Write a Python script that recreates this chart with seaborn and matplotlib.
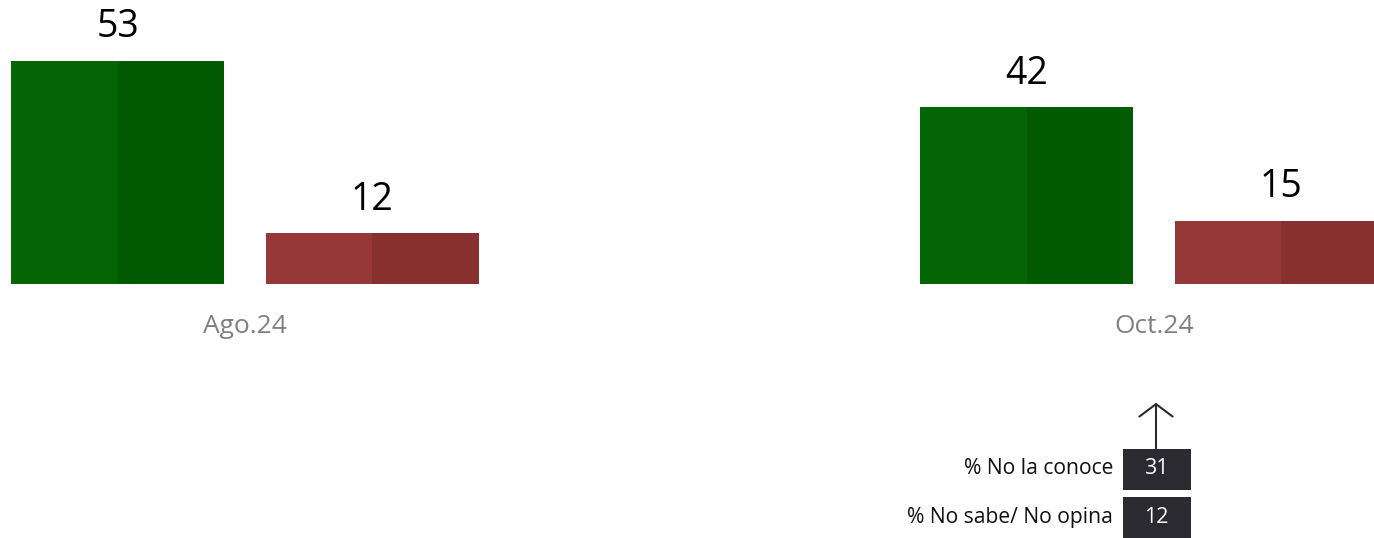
import numpy as np
import pandas as pd
import seaborn as sns
import matplotlib.pyplot as plt
from matplotlib.patches import Rectangle
from matplotlib.colors import ListedColormap

# Datos
periodos = ['Ago.24', 'Oct.24']
positiva = [53, 42]
negativa = [12, 15]
extra_etiquetas = ['% No la conoce', '% No sabe/ No opina']
extra_valores = [31, 12]

VERDE = '#036503'
VERDE_OSC = '#025a02'
ROJO = '#963837'
ROJO_OSC = '#883030'
OSCURO = '#2b2a30'

df = pd.DataFrame({
    'periodo': periodos * 2,
    'tipo': ['Positiva'] * len(periodos) + ['Negativa'] * len(periodos),
    'valor': positiva + negativa,
})

sns.set_style('white')
plt.rcParams['font.family'] = ['Open Sans', 'DejaVu Sans']

W, H = 1374, 538
fig = plt.figure(figsize=(W / 100, H / 100), dpi=100)

# =====================================================================
# BARRAS
# =====================================================================
base = 284  # pixel de la linea base
ax = fig.add_axes([0, (H - base) / H, 1, base / H])
sns.barplot(data=df, x='periodo', y='valor', hue='tipo',
            palette={'Positiva': VERDE, 'Negativa': ROJO}, saturation=1,
            width=0.56, gap=0.163, linewidth=0, legend=False, ax=ax)
ax.set_xlim(-0.2693, 1.2420)
ax.set_ylim(0, base / 4.21)

# mitad derecha mas oscura
for cont, oscuro in zip(ax.containers, [VERDE_OSC, ROJO_OSC]):
    for bar in cont:
        x, w, h = bar.get_x(), bar.get_width(), bar.get_height()
        ax.add_patch(Rectangle((x + w / 2, 0), w / 2, h, color=oscuro, lw=0))
        ax.annotate(f'{h:.0f}', (x + w / 2, h), xytext=(0, 17),
                    textcoords='offset points', ha='center', va='baseline',
                    fontsize=27, color='black')

ax.set_xlabel('')
ax.set_ylabel('')
ax.set_yticks([])
ax.tick_params(axis='x', length=0, pad=21.5, labelsize=19, labelcolor='#808080')
sns.despine(ax=ax, left=True, bottom=True)

# =====================================================================
# CUADRO INFERIOR
# =====================================================================
ax3 = fig.add_axes([1118.5 / W, -3.5 / H, 75 / W, 97 / H])
tabla = pd.DataFrame({'v': extra_valores}, index=extra_etiquetas)
sns.heatmap(tabla, annot=True, fmt='d', cmap=ListedColormap([OSCURO]),
            cbar=False, linewidths=5, linecolor='white',
            annot_kws={'color': 'white', 'fontsize': 15.5}, ax=ax3)
ax3.set_xticks([])
ax3.set_xlabel('')
ax3.set_ylabel('')
ax3.tick_params(axis='y', length=0, pad=4, labelsize=15.2, labelcolor='#111111')
plt.setp(ax3.get_yticklabels(), rotation=0)

ax3.annotate('', xy=(0.5, 1.43), xytext=(0.5, 0.96),
             xycoords='axes fraction',
             arrowprops=dict(arrowstyle='->,head_length=0.9,head_width=1.2',
                             color=OSCURO, lw=1.5, shrinkA=0, shrinkB=0))

fig.savefig('out.png', dpi=100)
